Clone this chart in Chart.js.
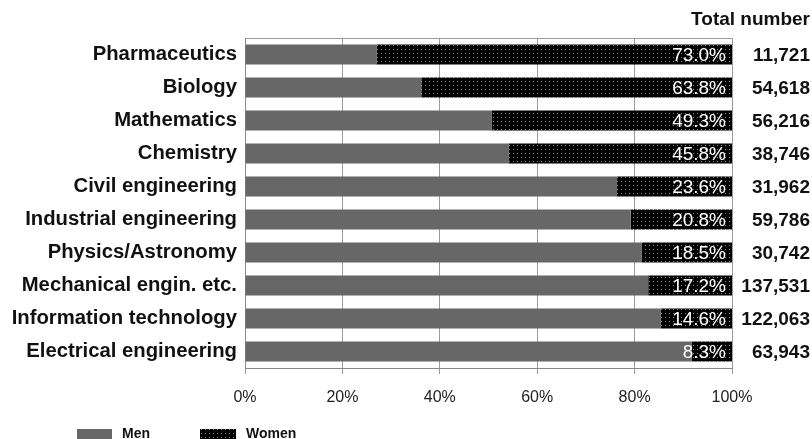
<!DOCTYPE html>
<html>
<head>
<meta charset="utf-8">
<script src="https://cdn.jsdelivr.net/npm/chart.js@4.4.2/dist/chart.umd.min.js"></script>
<style>
  html, body { margin: 0; padding: 0; background: #fff; }
  #wrap { width: 812px; height: 439px; position: relative; }
</style>
</head>
<body>
<div id="wrap"><canvas id="chart"></canvas></div>
<script>
const categories = ['Pharmaceutics', 'Biology', 'Mathematics', 'Chemistry', 'Civil engineering',
  'Industrial engineering', 'Physics/Astronomy', 'Mechanical engin. etc.', 'Information technology',
  'Electrical engineering'];
const men = [27.0, 36.2, 50.7, 54.2, 76.4, 79.2, 81.5, 82.8, 85.4, 91.7];
const women = [73.0, 63.8, 49.3, 45.8, 23.6, 20.8, 18.5, 17.2, 14.6, 8.3];
const totals = ['11,721', '54,618', '56,216', '38,746', '31,962', '59,786', '30,742', '137,531', '122,063', '63,943'];
const xTicks = [0, 20, 40, 60, 80, 100];

// black fill with a grid of grey dots, like the printed original
function dotPattern() {
  const c = document.createElement('canvas');
  c.width = 4;
  c.height = 4;
  const g = c.getContext('2d');
  g.fillStyle = '#000';
  g.fillRect(0, 0, 4, 4);
  g.fillStyle = '#8a8a8a';
  g.fillRect(1, 1, 1, 1);
  return g.createPattern(c, 'repeat');
}

const ctx = document.getElementById('chart').getContext('2d');
const womenFill = dotPattern();
const MEN_COLOR = '#676767';

const labelsPlugin = {
  id: 'labelsPlugin',
  afterDatasetsDraw(chart) {
    const g = chart.ctx;
    const meta = chart.getDatasetMeta(1);
    g.save();
    g.textBaseline = 'middle';
    meta.data.forEach((bar, i) => {
      g.fillStyle = '#fff';
      g.textAlign = 'right';
      g.font = '19px Arial, "Liberation Sans", sans-serif';
      g.fillText(women[i].toFixed(1) + '%', bar.x - 6, bar.y + 1);
      g.fillStyle = '#111';
      g.font = 'bold 19px Arial, "Liberation Sans", sans-serif';
      g.fillText(totals[i], 810, bar.y + 1);
    });
    g.fillText('Total number', 810, 20);
    g.restore();
  },
  afterDraw(chart) {
    // legend
    const g = chart.ctx;
    g.save();
    g.fillStyle = MEN_COLOR;
    g.fillRect(77, 429, 35, 12);
    g.fillStyle = womenFill;
    g.fillRect(200, 429, 36, 12);
    g.fillStyle = '#111';
    g.font = 'bold 14px Arial, "Liberation Sans", sans-serif';
    g.textBaseline = 'middle';
    g.textAlign = 'left';
    g.fillText('Men', 122, 434);
    g.fillText('Women', 246, 434);
    g.restore();
  }
};

new Chart(ctx, {
  type: 'bar',
  data: {
    labels: categories,
    datasets: [{
      label: 'Men',
      data: men,
      backgroundColor: MEN_COLOR,
      barPercentage: 0.61,
      categoryPercentage: 1
    }, {
      label: 'Women',
      data: women,
      backgroundColor: womenFill,
      barPercentage: 0.61,
      categoryPercentage: 1
    }]
  },
  options: {
    indexAxis: 'y',
    responsive: true,
    maintainAspectRatio: false,
    animation: false,
    layout: {
      padding: { top: 38, right: 80, bottom: 0, left: 0 }
    },
    scales: {
      x: {
        stacked: true,
        min: 0,
        max: 100,
        afterBuildTicks: (scale) => {
          scale.ticks = xTicks.map(v => ({ value: v }));
        },
        afterFit: (scale) => { scale.height = 71; },
        ticks: {
          color: '#222',
          padding: 14,
          font: { size: 16, family: 'Arial, "Liberation Sans", sans-serif' },
          callback: (v) => v + '%'
        },
        grid: {
          color: '#9a9a9a',
          tickLength: 6
        },
        border: { color: '#8a8a8a' }
      },
      x2: {
        position: 'top',
        min: 0,
        max: 100,
        afterFit: (scale) => { scale.height = 0; },
        ticks: { display: false },
        grid: { display: false, drawTicks: false },
        border: { display: true, color: '#9a9a9a' }
      },
      y: {
        stacked: true,
        afterFit: (scale) => { scale.width = 245; },
        ticks: {
          color: '#111',
          padding: 0,
          font: { size: 20.3, weight: 'bold', family: 'Arial, "Liberation Sans", sans-serif' }
        },
        grid: { display: false },
        border: { display: true, color: '#8a8a8a' }
      }
    },
    plugins: {
      legend: { display: false },
      tooltip: { enabled: false }
    }
  },
  plugins: [labelsPlugin]
});
</script>
</body>
</html>
